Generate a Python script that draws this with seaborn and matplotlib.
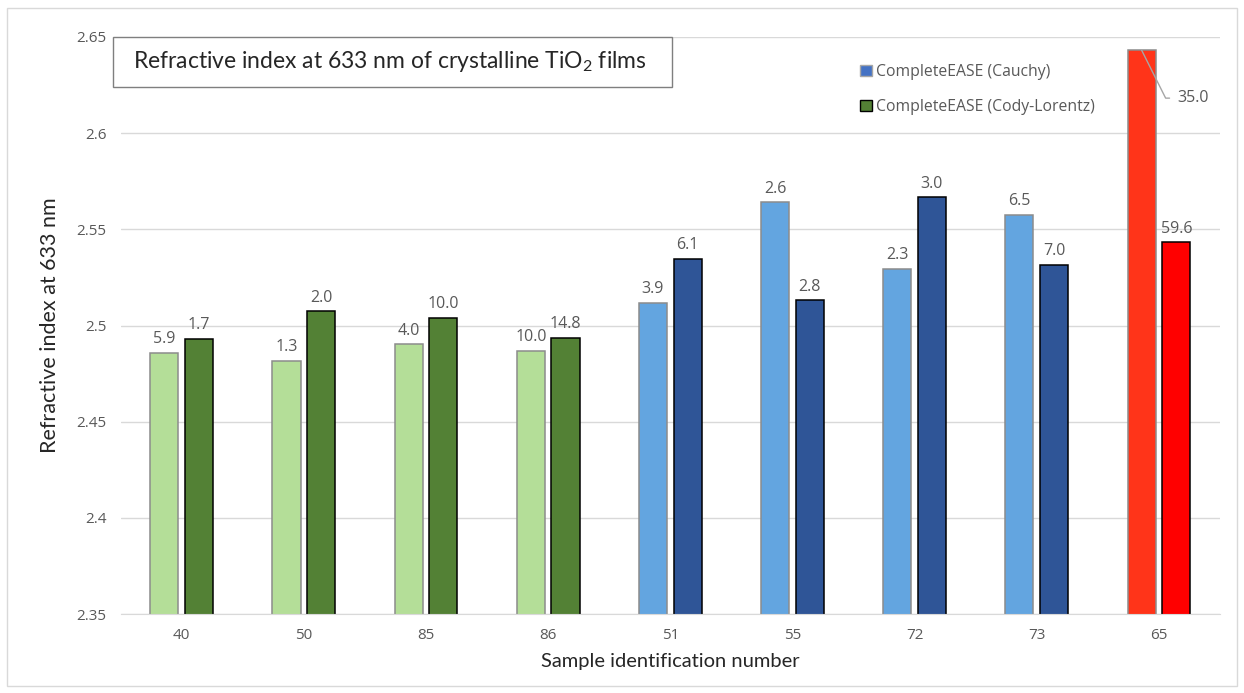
import pandas as pd
import seaborn as sns
import matplotlib.pyplot as plt
from matplotlib.patches import Rectangle, Patch
from matplotlib.ticker import MultipleLocator, FuncFormatter

# sample ids in plot order
samples = ["40", "50", "85", "86", "51", "55", "72", "73", "65"]
models = ["CompleteEASE (Cauchy)", "CompleteEASE (Cody-Lorentz)"]

# refractive index at 633 nm
n_cauchy = [2.4858, 2.4816, 2.4903, 2.4868, 2.5118, 2.5641, 2.5296, 2.5577, 2.6432]
n_cody = [2.4931, 2.5073, 2.5040, 2.4936, 2.5348, 2.5132, 2.5666, 2.5317, 2.5432]

# numbers printed above the bars
lbl_cauchy = ["5.9", "1.3", "4.0", "10.0", "3.9", "2.6", "2.3", "6.5", "35.0"]
lbl_cody = ["1.7", "2.0", "10.0", "14.8", "6.1", "2.8", "3.0", "7.0", "59.6"]

# colour group for each sample
groups = ["green"] * 4 + ["blue"] * 4 + ["red"]
light_colors = {"green": "#B4DE98", "blue": "#63A5E0", "red": "#FF3419"}
dark_colors = {"green": "#538135", "blue": "#2F5597", "red": "#FF0000"}

df = pd.DataFrame({
    "sample": samples * 2,
    "n": n_cauchy + n_cody,
    "model": [models[0]] * len(samples) + [models[1]] * len(samples),
})

sns.set_style("white")
plt.rcParams["font.family"] = ["Open Sans", "DejaVu Sans"]
plt.rcParams["mathtext.fontset"] = "custom"
plt.rcParams["mathtext.rm"] = "Lato"
plt.rcParams["mathtext.it"] = "Lato:italic"

W, H = 1244, 693
fig = plt.figure(figsize=(W / 100, H / 100), dpi=100)
ax = fig.add_axes([120.6 / W, 1 - 614 / H, (1220 - 120.6) / W, (614 - 37) / H])

sns.barplot(data=df, x="sample", y="n", hue="model", order=samples,
            hue_order=models, width=0.568, gap=0.19, legend=False,
            errorbar=None, ax=ax)

gray_txt = "#595959"
for i, cont in enumerate(ax.containers):
    labels = lbl_cauchy if i == 0 else lbl_cody
    for bar, g, lab in zip(cont, groups, labels):
        if i == 0:
            bar.set_facecolor(light_colors[g])
            bar.set_edgecolor("#8C8C8C")
        else:
            bar.set_facecolor(dark_colors[g])
            bar.set_edgecolor("black")
        bar.set_linewidth(1.1)
        x = bar.get_x() + bar.get_width() / 2
        y = bar.get_height()
        if i == 0 and lab == "35.0":
            ax.annotate(lab, (x, y), xytext=(25.5, -34.6), textcoords="offset points",
                        ha="left", va="center", fontsize=11.5, color=gray_txt,
                        arrowprops=dict(arrowstyle="-", color="#A6A6A6", lw=1,
                                        shrinkA=3, shrinkB=0,
                                        connectionstyle="angle,angleA=0,angleB=116.6,rad=0"))
        else:
            ax.annotate(lab, (x, y), xytext=(0, 4), textcoords="offset points",
                        ha="center", va="bottom", fontsize=11.5, color=gray_txt)

ax.set_ylim(2.35, 2.65)
ax.set_xlim(-0.5, len(samples) - 0.5)
ax.yaxis.set_major_locator(MultipleLocator(0.05))
ax.yaxis.set_major_formatter(FuncFormatter(lambda v, p: f"{round(v, 2):g}"))
ax.yaxis.grid(True, color="#D9D9D9", lw=1)
ax.set_axisbelow(True)
for s in ["top", "right", "left"]:
    ax.spines[s].set_visible(False)
ax.spines["bottom"].set_color("#D9D9D9")
ax.tick_params(axis="both", length=0, labelsize=11, labelcolor=gray_txt)
ax.tick_params(axis="y", pad=10)
ax.tick_params(axis="x", pad=10)

ax.set_ylabel("Refractive index at 633 nm", fontsize=15.5, family=["Lato", "DejaVu Sans"], labelpad=12)
ax.set_xlabel("Sample identification number", fontsize=14.5, family=["Lato", "DejaVu Sans"], labelpad=7)

# title box
fig.add_artist(Rectangle((113 / W, 1 - 87 / H), (672 - 113) / W, 50 / H,
                         transform=fig.transFigure, facecolor="white",
                         edgecolor="#7F7F7F", lw=1, zorder=5))
fig.text(133 / W, 1 - 62 / H, r"Refractive index at 633 nm of crystalline TiO$_2$ films",
         fontsize=16.5, family=["Lato", "DejaVu Sans"], va="center", ha="left", zorder=6)

handles = [Patch(facecolor="#4472C4", edgecolor="#A6A6A6", lw=1),
           Patch(facecolor="#538135", edgecolor="black", lw=1)]
fig.legend(handles, models, loc="upper left", bbox_to_anchor=(860 / W, 1 - 64 / H),
           bbox_transform=fig.transFigure, frameon=False, fontsize=11.3,
           handlelength=0.75, handleheight=0.75, handletextpad=0.3,
           labelspacing=1.2, borderpad=0, borderaxespad=0, labelcolor=gray_txt)

# outer chart border
fig.add_artist(Rectangle((7 / W, 1 - 686 / H), (1237 - 7) / W, (686 - 8) / H,
                         transform=fig.transFigure, fill=False,
                         edgecolor="#D9D9D9", lw=1))

fig.savefig("out.png", dpi=100)
